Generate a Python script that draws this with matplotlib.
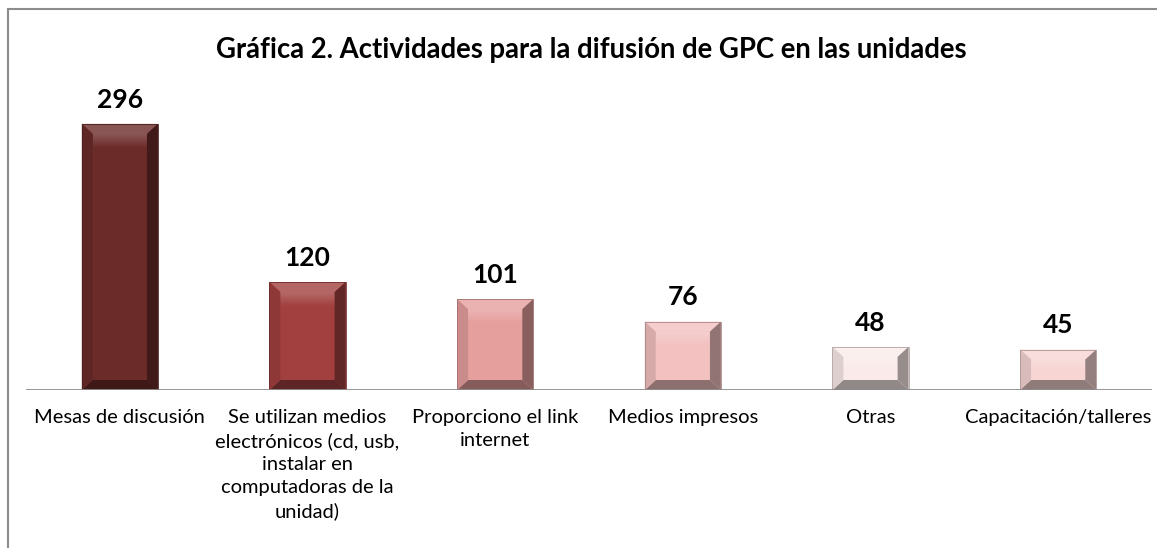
import matplotlib
matplotlib.use("Agg")
import matplotlib.pyplot as plt
from matplotlib.patches import Polygon, Rectangle
import matplotlib.colors as mcolors
import numpy as np

categories = ["Mesas de discusión",
              "Se utilizan medios\nelectrónicos (cd, usb,\ninstalar en\ncomputadoras de la\nunidad)",
              "Proporciono el link\ninternet",
              "Medios impresos",
              "Otras",
              "Capacitación/talleres"]
values = [296, 120, 101, 76, 48, 45]
colors = ["#6B2B29", "#A1403F", "#E59F9D", "#F2C1C0", "#FAEBEA", "#F6D5D3"]
title = "Gráfica 2. Actividades para la difusión de GPC en las unidades"

plt.rcParams['font.family'] = ['Lato', 'DejaVu Sans']

W, H = 1157, 548
fig = plt.figure(figsize=(W/100, H/100), dpi=100)
fig.patch.set_facecolor("white")

# outer chart border
fig.add_artist(Rectangle((8/W, -0.1), 1.2, (H-9)/H + 0.1, transform=fig.transFigure,
                         fill=False, edgecolor="#8C8C8C", linewidth=1.5))

ax_l, ax_r = 26, 1152
ax_b, ax_t = 390, 95
ax = fig.add_axes([ax_l/W, 1-ax_b/H, (ax_r-ax_l)/W, (ax_b-ax_t)/H])
px_per_unit = 0.899
ymax = (ax_b-ax_t)/px_per_unit
ax.set_xlim(-0.5, len(values)-0.5)
ax.set_ylim(0, ymax)
ax.axis("off")
ax.axhline(0, color="#8C8C8C", linewidth=2, zorder=5)

def mix(c, t, amt):
    c = np.array(mcolors.to_rgb(c)); t = np.array(mcolors.to_rgb(t))
    return tuple(c*(1-amt) + t*amt)

bw = 0.405
bx = 0.058   # bevel depth in x (category units)
by = 10/px_per_unit  # bevel depth in y (data units)
for i, (v, c) in enumerate(zip(values, colors)):
    x0, x1 = i - bw/2, i + bw/2
    y0, y1 = 0, v
    ax.add_patch(Rectangle((x0, y0), bw, v, facecolor=c, edgecolor="none", zorder=2))
    # inner face vertical gradient (highlight near top)
    grad = np.linspace(0, 1, 50)[:, None]
    top_c = np.array(mix(c, "white", 0.22)); bot_c = np.array(mcolors.to_rgb(c))
    img = top_c[None, None, :]*(1-grad[..., None]) + bot_c[None, None, :]*grad[..., None]
    img = np.repeat(img, 2, axis=1)
    hl = min(by*1.4, (v-2*by)*0.5)
    ax.imshow(img, extent=(x0+bx, x1-bx, y1-by-hl, y1-by), aspect="auto",
              zorder=2.5, interpolation="bilinear")
    # bevels
    ax.add_patch(Polygon([(x0, y1), (x1, y1), (x1-bx, y1-by), (x0+bx, y1-by)],
                         closed=True, facecolor=mix(c, "white", 0.2), edgecolor="none", zorder=3))
    ax.add_patch(Polygon([(x0, y0), (x1, y0), (x1-bx, y0+by), (x0+bx, y0+by)],
                         closed=True, facecolor=mix(c, "black", 0.42), edgecolor="none", zorder=3))
    ax.add_patch(Polygon([(x0, y0), (x0+bx, y0+by), (x0+bx, y1-by), (x0, y1)],
                         closed=True, facecolor=mix(c, "black", 0.12), edgecolor="none", zorder=3))
    ax.add_patch(Polygon([(x1, y0), (x1-bx, y0+by), (x1-bx, y1-by), (x1, y1)],
                         closed=True, facecolor=mix(c, "black", 0.4), edgecolor="none", zorder=3))
    ax.add_patch(Rectangle((x0, y0), bw, v, facecolor="none",
                           edgecolor=mix(c, "black", 0.3), linewidth=0.6, zorder=4))
    ax.annotate(str(v), (i, v), xytext=(0, 17.5), textcoords="offset points",
                ha="center", va="center", fontsize=19, fontweight="bold", color="black")
    ax.annotate(categories[i], (i, 0), xytext=(0, -14), textcoords="offset points",
                ha="center", va="top", fontsize=14.5, color="black", linespacing=1.41)

fig.text(591/W, 1-50/H, title, ha="center", va="center", fontsize=19.8,
         fontweight="bold", color="black")

fig.savefig("out.png", dpi=100)
